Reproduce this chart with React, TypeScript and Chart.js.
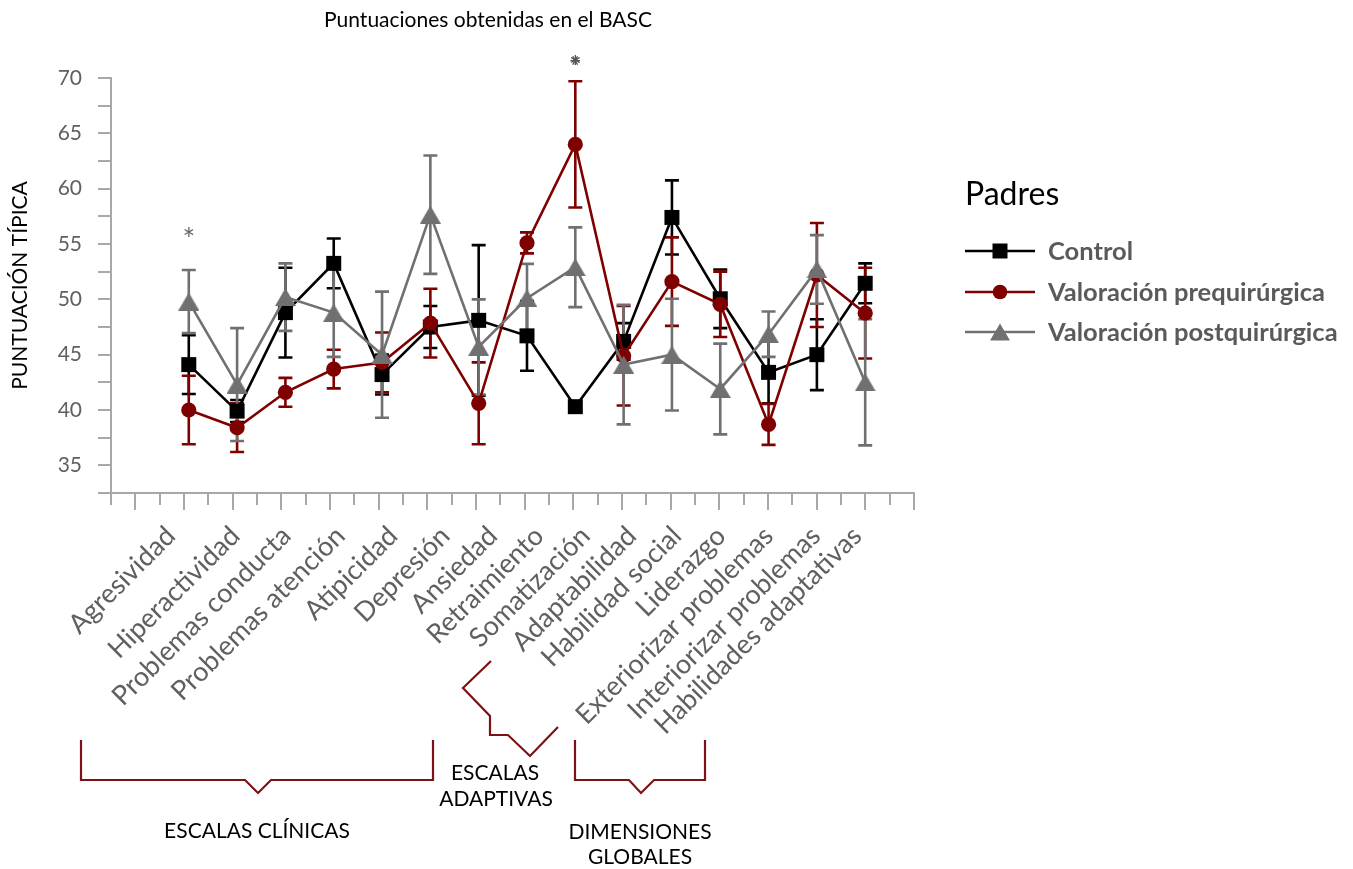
import React, { useEffect, useRef } from "react";
import { Chart, registerables } from "chart.js";

Chart.register(...registerables);

const categories = [
  "Agresividad",
  "Hiperactividad",
  "Problemas conducta",
  "Problemas atención",
  "Atipicidad",
  "Depresión",
  "Ansiedad",
  "Retraimiento",
  "Somatización",
  "Adaptabilidad",
  "Habilidad social",
  "Liderazgo",
  "Exteriorizar problemas",
  "Interiorizar problemas",
  "Habilidades adaptativas",
];

const controlValues = [44.1, 39.9, 48.8, 53.25, 43.2, 47.5, 48.1, 46.7, 40.3, 46.2, 57.4, 50.05, 43.4, 45.0, 51.45];
const controlErrors = [2.65, 1.0, 4.05, 2.25, 1.8, 1.9, 6.8, 3.15, 0.4, 1.65, 3.35, 2.65, 2.8, 3.2, 1.8];

const preValues = [40.0, 38.4, 41.6, 43.7, 44.3, 47.85, 40.6, 55.1, 64.0, 44.9, 51.6, 49.55, 38.7, 52.2, 48.75];
const preErrors = [3.1, 2.2, 1.3, 1.75, 2.7, 3.1, 3.7, 0.95, 5.7, 4.5, 4.0, 2.95, 1.85, 4.7, 4.1];

const postValues = [49.8, 42.3, 50.2, 48.8, 45.0, 57.65, 45.7, 50.1, 52.9, 44.1, 45.0, 41.9, 46.85, 52.7, 42.5];
const postErrors = [2.85, 5.1, 3.05, 4.0, 5.7, 5.35, 4.3, 3.1, 3.6, 5.4, 5.05, 4.1, 2.05, 3.1, 5.7];

const seriesNames = ["Control", "Valoración prequirúrgica", "Valoración postquirúrgica"];
const yTickStep = 2.5;
const yMin = 32.5;
const yMax = 70;

// significance marks: category index and value level
const asteriskCategory = [0, 8];
const asteriskLevel = [56.1, 71.6];

// layout: nudge of each rotated category label along the axis (in category units)
const LABEL_SHIFT = [-0.37, -0.04, 0.02, 0.14, 0.23, 0.31, 0.29, 0.25, 0.21, 0.17, 0.1, 0.02, 0, -0.02, -0.17];

const AXIS = "#a8a8a9";
const TICK_TEXT = "#606060";
const BRACKET = "#7d1216";
const FONT = "Lato, 'Open Sans', sans-serif";

const X_MIN = -0.61;
const X_MAX = 16.01;

function makeTriangle(color: string, w: number, h: number) {
  const c = document.createElement("canvas");
  c.width = w;
  c.height = h;
  const g = c.getContext("2d")!;
  g.fillStyle = color;
  g.beginPath();
  g.moveTo(w / 2, 0);
  g.lineTo(w, h);
  g.lineTo(0, h);
  g.closePath();
  g.fill();
  return c;
}

function drawMarker(ctx: CanvasRenderingContext2D, kind: string, x: number, y: number, r: number, color: string) {
  ctx.save();
  ctx.fillStyle = color;
  ctx.beginPath();
  if (kind === "rect") {
    const s = Math.SQRT1_2 * r;
    ctx.rect(x - s, y - s, 2 * s, 2 * s);
  } else if (kind === "circle") {
    ctx.arc(x, y, r, 0, Math.PI * 2);
  } else {
    const w = 20;
    const h = 17;
    ctx.moveTo(x, y - h / 2);
    ctx.lineTo(x + w / 2, y + h / 2);
    ctx.lineTo(x - w / 2, y + h / 2);
    ctx.closePath();
  }
  ctx.fill();
  ctx.restore();
}

export default function App() {
  const ref = useRef<HTMLCanvasElement | null>(null);

  useEffect(() => {
    if (!ref.current) return;

    const SERIES = [
      { name: seriesNames[0], values: controlValues, errors: controlErrors, color: "#000000", point: "rect" as any, radius: 10.6, kind: "rect" },
      { name: seriesNames[1], values: preValues, errors: preErrors, color: "#7f0000", point: "circle" as any, radius: 7.6, kind: "circle" },
      { name: seriesNames[2], values: postValues, errors: postErrors, color: "#707073", point: makeTriangle("#707073", 21, 18) as any, radius: 11, kind: "triangle" },
    ];

    const errorBarPlugin = {
      id: "errorBars",
      beforeDatasetsDraw(chart: any) {
        const { ctx } = chart;
        const xs = chart.scales.x;
        const ys = chart.scales.y;
        SERIES.forEach((s) => {
          ctx.save();
          ctx.strokeStyle = s.color;
          ctx.lineWidth = 2.6;
          s.values.forEach((v, i) => {
            const e = s.errors[i];
            const px = xs.getPixelForValue(i + 1);
            const top = ys.getPixelForValue(v + e);
            const bot = ys.getPixelForValue(v - e);
            ctx.beginPath();
            ctx.moveTo(px, top);
            ctx.lineTo(px, bot);
            ctx.moveTo(px - 7, top);
            ctx.lineTo(px + 7, top);
            ctx.moveTo(px - 7, bot);
            ctx.lineTo(px + 7, bot);
            ctx.stroke();
          });
          ctx.restore();
        });
      },
    };

    const xTicksPlugin = {
      id: "xTickMarks",
      afterDraw(chart: any) {
        const { ctx } = chart;
        const xs = chart.scales.x;
        const y0 = xs.top;
        const n = 33;
        ctx.save();
        ctx.strokeStyle = AXIS;
        ctx.lineWidth = 2;
        for (let m = 0; m <= n; m++) {
          const v = X_MIN + ((X_MAX - X_MIN) * m) / n;
          const px = Math.round(xs.getPixelForValue(v));
          const len = m % 2 === 1 ? 17 : 12;
          ctx.beginPath();
          ctx.moveTo(px, y0);
          ctx.lineTo(px, y0 + len);
          ctx.stroke();
        }
        ctx.restore();
      },
    };

    const decorPlugin = {
      id: "decor",
      afterDraw(chart: any) {
        const { ctx } = chart;
        const xs = chart.scales.x;
        const ys = chart.scales.y;

        // title
        ctx.save();
        ctx.fillStyle = "#000";
        ctx.font = `21px ${FONT}`;
        ctx.textAlign = "center";
        ctx.textBaseline = "middle";
        ctx.fillText("Puntuaciones obtenidas en el BASC", 488, 20);
        ctx.restore();

        // asterisks
        asteriskCategory.forEach((ci, k) => {
          const px = xs.getPixelForValue(ci + 1);
          const py = ys.getPixelForValue(asteriskLevel[k]);
          ctx.save();
          ctx.font = `30px ${FONT}`;
          ctx.fillStyle = k === 0 ? "#6a6a6a" : "#555555";
          ctx.textAlign = "center";
          ctx.textBaseline = "alphabetic";
          const m = ctx.measureText("*");
          const shift = (m.actualBoundingBoxAscent - m.actualBoundingBoxDescent) / 2;
          ctx.fillText("*", px, py + shift);
          if (k === 1) {
            ctx.translate(px, py);
            ctx.rotate(Math.PI / 6);
            ctx.fillText("*", 0, shift);
          }
          ctx.restore();
        });

        // legend
        ctx.save();
        ctx.fillStyle = "#000";
        ctx.font = `32px ${FONT}`;
        ctx.textAlign = "left";
        ctx.textBaseline = "middle";
        ctx.fillText("Padres", 965, 195);
        const rows = [251, 292, 332];
        SERIES.forEach((s, i) => {
          const y = rows[i];
          ctx.strokeStyle = s.color;
          ctx.lineWidth = 2.6;
          ctx.beginPath();
          ctx.moveTo(965, y);
          ctx.lineTo(1035, y);
          ctx.stroke();
          drawMarker(ctx, s.kind, 1000, y, s.kind === "circle" ? 7.3 : 10.6, s.color);
          ctx.fillStyle = "#5a5a5a";
          ctx.font = `bold 25.5px ${FONT}`;
          ctx.fillText(s.name, 1048, y + 1);
        });
        ctx.restore();

        // brackets
        ctx.save();
        ctx.strokeStyle = BRACKET;
        ctx.lineWidth = 2.2;
        ctx.lineJoin = "miter";
        const poly = (pts: number[][]) => {
          ctx.beginPath();
          pts.forEach(([x, y], j) => (j === 0 ? ctx.moveTo(x, y) : ctx.lineTo(x, y)));
          ctx.stroke();
        };
        poly([[81, 740], [81, 780], [245, 780], [258, 793], [271, 780], [433, 780], [433, 740]]);
        poly([[491, 661], [463, 688], [490, 716], [490, 735], [508, 735], [530, 756], [558, 727]]);
        poly([[575, 740], [575, 780], [629, 780], [641, 793], [654, 780], [705, 780], [705, 740]]);
        ctx.restore();

        ctx.save();
        ctx.fillStyle = "#000";
        ctx.font = `21px ${FONT}`;
        ctx.textAlign = "center";
        ctx.textBaseline = "middle";
        ctx.fillText("ESCALAS CLÍNICAS", 257, 831);
        ctx.fillText("ESCALAS", 495, 773);
        ctx.fillText("ADAPTIVAS", 496, 799);
        ctx.fillText("DIMENSIONES", 640, 832);
        ctx.fillText("GLOBALES", 640, 857);
        ctx.restore();
      },
    };

    const chart = new Chart(ref.current, {
      type: "line",
      data: {
        datasets: SERIES.map((s, si) => ({
          label: s.name,
          data: s.values.map((v, i) => ({ x: i + 1, y: v })),
          borderColor: s.color,
          backgroundColor: s.color,
          borderWidth: 2.6,
          pointStyle: s.point,
          pointRadius: s.radius,
          pointBorderWidth: 0,
          pointBackgroundColor: s.color,
          pointHoverRadius: s.radius,
          tension: 0,
          order: 3 - si,
        })),
      },
      options: {
        animation: false,
        responsive: true,
        maintainAspectRatio: false,
        devicePixelRatio: 1,
        layout: { padding: { top: 78, right: 439, bottom: 0, left: 0 } },
        plugins: {
          legend: { display: false },
          tooltip: { enabled: false },
          title: { display: false },
        },
        scales: {
          x: {
            type: "linear",
            min: X_MIN,
            max: X_MAX,
            afterBuildTicks: (s: any) => {
              s.ticks = categories.map((_, i) => ({ value: i + 1 + LABEL_SHIFT[i] }));
            },
            ticks: {
              autoSkip: false,
              minRotation: 45,
              maxRotation: 45,
              padding: 27,
              labelOffset: 0,
              color: TICK_TEXT,
              font: { family: FONT, size: 27 },
              callback: (_v: any, index: number) => categories[index] ?? "",
            },
            grid: { display: true, drawOnChartArea: false, drawTicks: false },
            border: { display: true, color: AXIS, width: 2 },
            afterFit: (s: any) => {
              s.height = 376;
              s.paddingLeft = 0;
              s.paddingRight = 0;
            },
          },
          y: {
            min: yMin,
            max: yMax,
            ticks: {
              autoSkip: false,
              stepSize: yTickStep,
              padding: 16,
              color: TICK_TEXT,
              font: { family: FONT, size: 21 },
              callback: (v: any) => (Math.abs(Number(v) % 5) < 1e-6 ? String(v) : ""),
            },
            grid: { drawOnChartArea: false, drawTicks: true, tickLength: 13, color: AXIS, lineWidth: 2 },
            border: { display: true, color: AXIS, width: 2 },
            title: {
              display: true,
              text: "PUNTUACIÓN TÍPICA",
              color: "#000",
              font: { family: FONT, size: 21 },
              padding: { top: 8, bottom: 0 },
            },
            afterFit: (s: any) => {
              s.width = 111;
              s.paddingTop = 0;
              s.paddingBottom = 0;
            },
          },
        },
      },
      plugins: [errorBarPlugin, xTicksPlugin, decorPlugin],
    });
    return () => chart.destroy();
  }, []);

  return (
    <div style={{ position: "fixed", left: 0, top: 0, width: "1353px", height: "869px" }}>
      <canvas ref={ref} />
    </div>
  );
}
